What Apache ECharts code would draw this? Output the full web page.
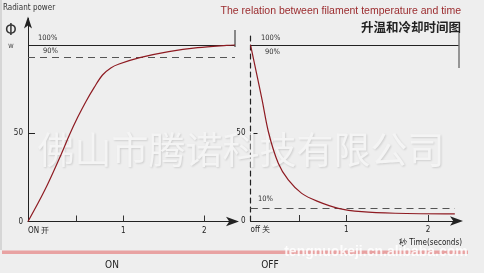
<!DOCTYPE html>
<html><head><meta charset="utf-8">
<script src="https://cdn.jsdelivr.net/npm/echarts@6/dist/echarts.min.js"></script>
<style>html,body{margin:0;padding:0;background:#eeeeee}#c{width:484px;height:273px}</style>
</head><body><div id="c"></div>
<script>
// ---- data ----
const heatTime  = [0, 0.2, 0.4, 0.5, 0.6, 0.7, 0.8, 0.9, 1.0, 1.1, 1.35, 1.7, 2.05, 2.4, 2.5];
const heatPower = [0, 17.5, 38, 49, 59, 68, 76, 83, 87, 89.2, 92.8, 96.2, 98.5, 99.8, 100];
const coolTime  = [0, 0.07, 0.139, 0.218, 0.333, 0.453, 0.614, 0.813, 1.053, 1.333, 1.733, 2.45];
const coolPower = [100, 84.5, 68.8, 50, 32.8, 23.3, 15.7, 11.0, 7.2, 5.3, 4.4, 4.0];
const xTickValues = [0, 0.58, 1.15, 2.13];
const xLabelValues = [0, 1.15, 2.13];
const xLabelsHeat = ['ON 开', '1', '2'];
const xLabelsCool = ['off 关', '1', '2'];
const yLabelValues = [0, 50];
const levelFull = 100, levelNinety = 92.8, levelTen = 7.2;

const NARROW = '"Liberation Sans Narrow","DejaVu Sans Condensed",sans-serif';
const curveColor = '#8e1b22';

function pairs(xs, ys){ return xs.map((x,i)=>[x, ys[i]]); }
function xLab(labels){ return v => { const i = xLabelValues.findIndex(u=>Math.abs(u-v)<1e-6); return i<0?'':labels[i]; }; }

const chart = echarts.init(document.getElementById('c'));
const axisBase = {
  type:'value', min:0, max:2.5,
  splitLine:{show:false},
  axisLine:{lineStyle:{color:'#222', width:1}, symbol:['none','arrow'], symbolSize:[7,13], symbolOffset:[0,4]},
  axisTick:{inside:true, length:6, lineStyle:{color:'#333'}, customValues:xTickValues.slice(1)},
  axisLabel:{customValues:xLabelValues, color:'#222', fontSize:8, fontFamily:NARROW, margin:5, alignMinLabel:'left'}
};
chart.setOption({
  backgroundColor:'#eeeeee',
  animation:false,
  grid:[
    {left:28, top:18.5, width:207, height:203},
    {left:250.5, top:33, width:208.5, height:188}
  ],
  xAxis:[
    Object.assign({}, axisBase, {gridIndex:0, axisLabel:Object.assign({}, axisBase.axisLabel, {formatter:xLab(xLabelsHeat)})}),
    Object.assign({}, axisBase, {gridIndex:1, axisLabel:Object.assign({}, axisBase.axisLabel, {formatter:xLab(xLabelsCool)})})
  ],
  yAxis:[
    {type:'value', gridIndex:0, min:0, max:115, splitLine:{show:false},
     axisLine:{show:true, lineStyle:{color:'#222', width:1}, symbol:['none','arrow'], symbolSize:[6,12], symbolOffset:[0,2]},
     axisTick:{show:true, inside:true, length:7, lineStyle:{color:'#222'}, customValues:[50]},
     axisLabel:{customValues:yLabelValues, color:'#222', fontSize:8, fontFamily:NARROW, margin:5}},
    {type:'value', gridIndex:1, min:0, max:106.8, splitLine:{show:false},
     axisLine:{show:true, lineStyle:{color:'#222', width:1.2, type:[5,4]}},
     axisTick:{show:true, inside:true, length:7, lineStyle:{color:'#222'}, customValues:[levelTen, 50]},
     axisLabel:{customValues:yLabelValues, color:'#222', fontSize:8, fontFamily:NARROW, margin:5}}
  ],
  series:[
    {type:'line', xAxisIndex:0, yAxisIndex:0, data:pairs(heatTime, heatPower), smooth:0.35,
     showSymbol:false, lineStyle:{color:curveColor, width:1.2}, z:5,
     markLine:{silent:true, symbol:'none', label:{show:false}, animation:false,
       data:[
         [{coord:[0,levelFull], lineStyle:{color:'#222', width:1, type:'solid'}},{coord:[2.5,levelFull]}],
         [{coord:[0,levelNinety], lineStyle:{color:'#555', width:1, type:[7,5]}},{coord:[2.5,levelNinety]}],
         [{coord:[2.5,108.5], lineStyle:{color:'#666', width:1.5, type:'solid'}},{coord:[2.5,98.9]}]
       ]}},
    {type:'line', xAxisIndex:1, yAxisIndex:1, data:pairs(coolTime, coolPower), smooth:0.35,
     showSymbol:false, lineStyle:{color:curveColor, width:1.2}, z:5,
     markLine:{silent:true, symbol:'none', label:{show:false}, animation:false,
       data:[
         [{coord:[0,levelFull], lineStyle:{color:'#222', width:1, type:'solid'}},{coord:[2.5,levelFull]}],
         [{coord:[0,levelTen], lineStyle:{color:'#555', width:1, type:[7,5]}},{coord:[2.45,levelTen]}],
         [{coord:[2.5,106.8], lineStyle:{color:'#777', width:1.5, type:'solid'}},{coord:[2.5,86.9]}]
       ]}}
  ],
  graphic:[
    {type:'rect', shape:{x:0,y:0,width:2,height:250}, style:{fill:'#d6d6d6'}, silent:true},
    {type:'text', x:241, y:150, z:1, style:{text:'佛山市腾诺科技有限公司', font:'37px "Noto Sans CJK SC"', fill:'#f4f4f4', textAlign:'center', textVerticalAlign:'middle', textShadowColor:'rgba(0,0,0,0.13)', textShadowBlur:2, textShadowOffsetX:1, textShadowOffsetY:1}, silent:true},
    {type:'text', x:3, y:8, style:{text:'Radiant power', font:'8px '+NARROW, fill:'#333', textVerticalAlign:'middle'}},
    {type:'text', x:11, y:31, style:{text:'Φ', font:'15px "DejaVu Sans"', fill:'#333', textAlign:'center', textVerticalAlign:'middle'}},
    {type:'text', x:11, y:46, style:{text:'W', font:'6px '+NARROW, fill:'#333', textAlign:'center', textVerticalAlign:'middle'}},
    {type:'text', x:38, y:38, style:{text:'100%', font:'7.5px '+NARROW, fill:'#333', textVerticalAlign:'middle'}},
    {type:'text', x:43, y:51, style:{text:'90%', font:'7.5px '+NARROW, fill:'#333', textVerticalAlign:'middle'}},
    {type:'text', x:261, y:38, style:{text:'100%', font:'7.5px '+NARROW, fill:'#333', textVerticalAlign:'middle'}},
    {type:'text', x:265, y:52, style:{text:'90%', font:'7.5px '+NARROW, fill:'#333', textVerticalAlign:'middle'}},
    {type:'text', x:258, y:199, style:{text:'10%', font:'7.5px '+NARROW, fill:'#333', textVerticalAlign:'middle'}},
    {type:'text', x:461, y:11, style:{text:'The relation between filament temperature and time', font:'10.5px "Liberation Sans",Arial,sans-serif', fill:'#9b2b2e', textAlign:'right', textVerticalAlign:'middle'}},
    {type:'text', x:461, y:27, style:{text:'升温和冷却时间图', font:'bold 12.5px "Noto Sans CJK SC"', fill:'#222', textAlign:'right', textVerticalAlign:'middle'}},
    {type:'text', x:462, y:243, style:{text:'秒 Time(seconds)', font:'8px '+NARROW, fill:'#222', textAlign:'right', textVerticalAlign:'middle'}},
    {type:'rect', shape:{x:2,y:250.5,width:466,height:3.5}, style:{fill:'#e8a2a2'}, silent:true},
    {type:'text', x:376, y:252, style:{text:'tengnuokeji.cn.alibaba.com', font:'bold 14px "Liberation Sans",Arial,sans-serif', fill:'rgba(255,255,255,0.85)', textAlign:'center', textVerticalAlign:'middle'}},
    {type:'text', x:112, y:265, style:{text:'ON', font:'10px '+NARROW, fill:'#222', textAlign:'center', textVerticalAlign:'middle'}},
    {type:'text', x:270, y:265, style:{text:'OFF', font:'10px '+NARROW, fill:'#222', textAlign:'center', textVerticalAlign:'middle'}}
  ]
});
</script></body></html>
